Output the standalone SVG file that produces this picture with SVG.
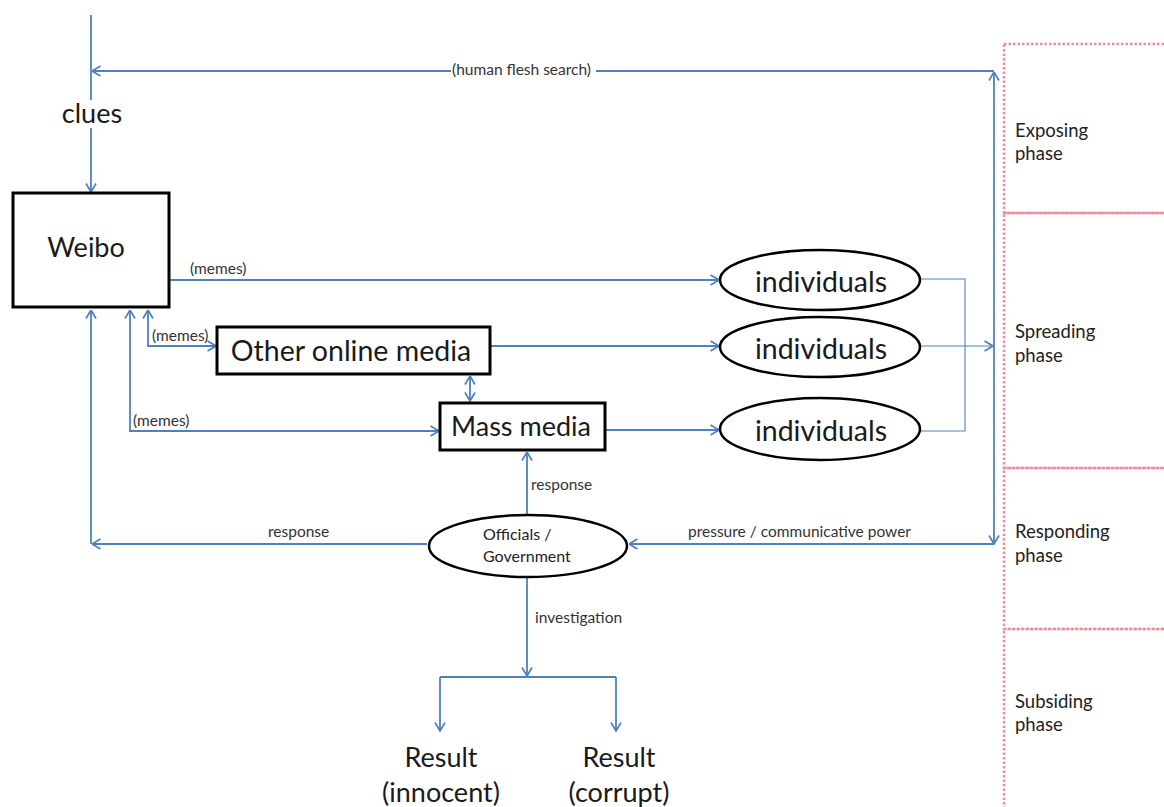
<svg xmlns="http://www.w3.org/2000/svg" width="1164" height="807" viewBox="0 0 1164 807">
<defs>
<style>
.c{fill:none;stroke:#4F81BD;stroke-width:1.8}
.t{fill:none;stroke:#4F81BD;stroke-width:1.1}
.box{fill:#fff;stroke:#000;stroke-width:3}
.ell{fill:#fff;stroke:#000;stroke-width:2.5}
.ph{fill:none;stroke:#EF8E9B;stroke-width:2.5;stroke-dasharray:2.5 2}
text{font-family:Lato,"Liberation Sans",sans-serif;fill:#1a1a1a}
.big{font-size:27px}
.mid{font-size:28.5px}
.sm{font-size:15.5px;fill:#333}
.phs{font-size:18.5px;fill:#222}
.off{font-size:16px;fill:#222}
</style>
<marker id="a" viewBox="0 0 10 12" markerWidth="10" markerHeight="12" refX="9.5" refY="6" orient="auto-start-reverse" markerUnits="userSpaceOnUse">
<path d="M1,1 L9.5,6 L1,11" fill="none" stroke="#4F81BD" stroke-width="1.7"/>
</marker>
</defs>

<g id="phases">
<rect class="ph" x="1004" y="44" width="170" height="169"/>
<rect class="ph" x="1004" y="213" width="170" height="255"/>
<rect class="ph" x="1004" y="468" width="170" height="161"/>
<rect class="ph" x="1004" y="629" width="170" height="190"/>
<text class="phs" x="1015" y="137">Exposing</text>
<text class="phs" x="1015" y="160">phase</text>
<text class="phs" x="1015" y="338">Spreading</text>
<text class="phs" x="1015" y="362">phase</text>
<text class="phs" x="1015" y="538">Responding</text>
<text class="phs" x="1015" y="562">phase</text>
<text class="phs" x="1015" y="708">Subsiding</text>
<text class="phs" x="1015" y="731">phase</text>
</g>

<g id="connectors">
<path class="c" d="M91,15 L91,100"/>
<path class="c" d="M91,128 L91,192" marker-end="url(#a)"/>
<path class="c" d="M994,71 L92,71" marker-end="url(#a)"/>
<path class="c" d="M994,544 L994,72" marker-start="url(#a)" marker-end="url(#a)"/>
<path class="c" d="M994,544 L629,544" marker-end="url(#a)"/>
<path class="c" d="M427,544 L92,544" marker-end="url(#a)"/>
<path class="c" d="M91,544 L91,310" marker-end="url(#a)"/>
<path class="c" d="M148,310 L148,346 L216,346" marker-start="url(#a)" marker-end="url(#a)"/>
<path class="c" d="M130,310 L130,431 L439,431" marker-start="url(#a)" marker-end="url(#a)"/>
<path class="c" d="M170,280 L719,280" marker-end="url(#a)"/>
<path class="c" d="M491,346 L719,346" marker-end="url(#a)"/>
<path class="c" d="M606,430 L719,430" marker-end="url(#a)"/>
<path class="c" d="M470,376 L470,401" marker-start="url(#a)" marker-end="url(#a)"/>
<path class="t" d="M920,279 L965,279 L965,431 L920,431"/>
<path class="t" d="M920,346 L993,346" marker-end="url(#a)"/>
<path class="c" d="M527,515 L527,452" marker-end="url(#a)"/>
<path class="c" d="M527,578 L527,676" marker-end="url(#a)"/>
<path class="c" d="M440,677 L616,677"/>
<path class="c" d="M440,677 L440,731" marker-end="url(#a)"/>
<path class="c" d="M616,677 L616,731" marker-end="url(#a)"/>
<rect x="451" y="61" width="145" height="17" fill="#fff"/>
<text class="sm" x="452" y="75">(human flesh search)</text>
<text class="sm" x="190" y="274">(memes)</text>
<text class="sm" x="152" y="341">(memes)</text>
<text class="sm" x="133" y="426">(memes)</text>
<text class="sm" x="531" y="490">response</text>
<text class="sm" x="268" y="537">response</text>
<text class="sm" x="688" y="537">pressure / communicative power</text>
<text class="sm" x="535" y="623">investigation</text>
</g>

<g id="clues"><text class="big" x="92" y="123" text-anchor="middle">clues</text></g>

<g id="weibo">
<rect class="box" x="13" y="193" width="156" height="114"/>
<text class="big" x="86" y="257" text-anchor="middle">Weibo</text>
</g>

<g id="other-online-media">
<rect class="box" x="217" y="327" width="273" height="47"/>
<text class="mid" x="351" y="361" text-anchor="middle">Other online media</text>
</g>

<g id="mass-media">
<rect class="box" x="440" y="403" width="165" height="47"/>
<text class="big" x="521" y="436" text-anchor="middle">Mass media</text>
</g>

<g id="individuals-1">
<ellipse class="ell" cx="820" cy="280" rx="100" ry="30"/>
<text class="mid" x="821" y="292" text-anchor="middle">individuals</text>
</g>
<g id="individuals-2">
<ellipse class="ell" cx="820" cy="347" rx="100" ry="30"/>
<text class="mid" x="821" y="359" text-anchor="middle">individuals</text>
</g>
<g id="individuals-3">
<ellipse class="ell" cx="820" cy="429" rx="100" ry="31"/>
<text class="mid" x="821" y="441" text-anchor="middle">individuals</text>
</g>

<g id="officials">
<ellipse class="ell" cx="528" cy="546" rx="99" ry="31"/>
<text class="off" x="483" y="540">Officials /</text>
<text class="off" x="483" y="562">Government</text>
</g>

<g id="result-innocent">
<text class="big" x="441" y="767" text-anchor="middle">Result</text>
<text class="big" x="441" y="802" text-anchor="middle">(innocent)</text>
</g>
<g id="result-corrupt">
<text class="big" x="619" y="767" text-anchor="middle">Result</text>
<text class="big" x="619" y="802" text-anchor="middle">(corrupt)</text>
</g>
</svg>
